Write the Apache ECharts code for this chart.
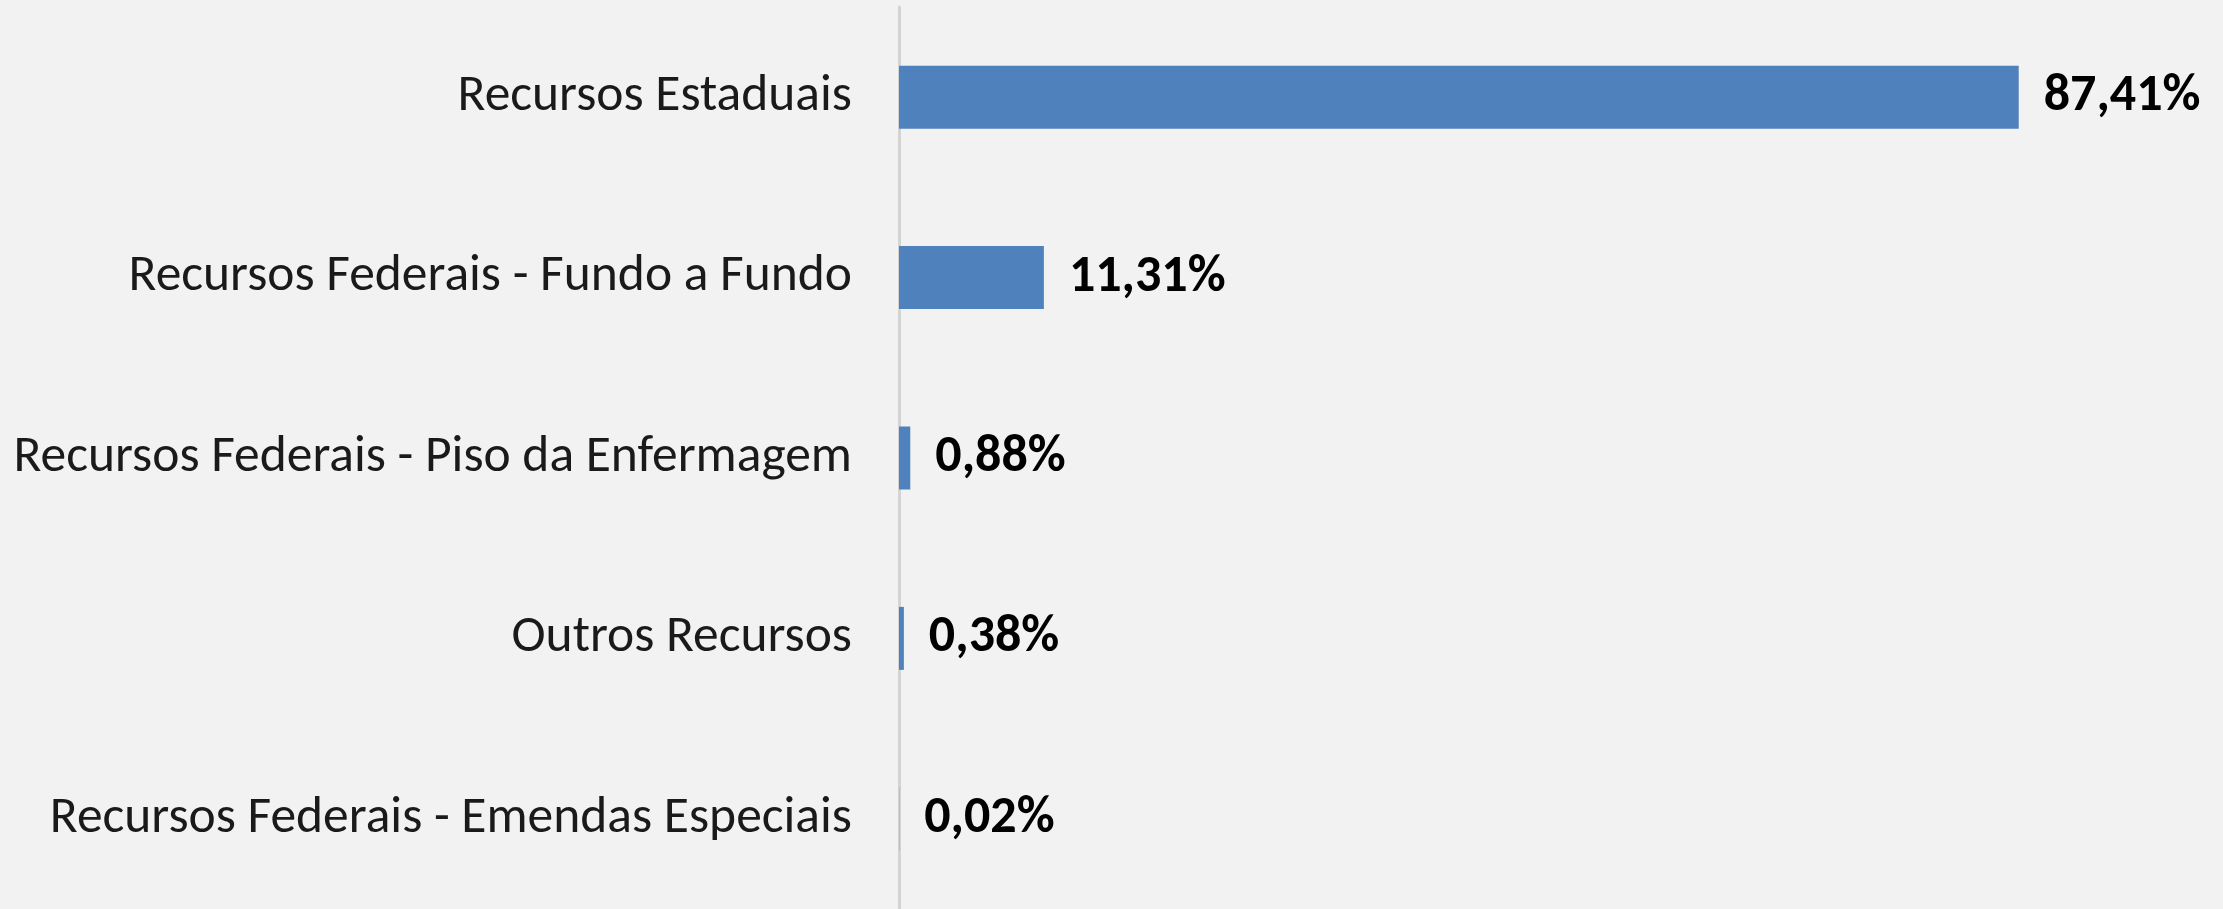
<!DOCTYPE html>
<html>
<head>
<meta charset="utf-8">
<script src="https://cdn.jsdelivr.net/npm/echarts@6/dist/echarts.min.js"></script>
<style>
  html, body { margin: 0; padding: 0; background: #f2f2f2; }
  #chart { width: 2223px; height: 909px; }
</style>
</head>
<body>
<div id="chart"></div>
<script>
// fontes de recursos, participação em %
const categorias = [
  'Recursos Estaduais',
  'Recursos Federais - Fundo a Fundo',
  'Recursos Federais - Piso da Enfermagem',
  'Outros Recursos',
  'Recursos Federais - Emendas Especiais'
];
const percentuais = [87.41, 11.31, 0.88, 0.38, 0.02];

const fonte = "Carlito, 'Liberation Sans Narrow', 'Liberation Sans', sans-serif";

let chart = echarts.init(document.getElementById('chart'));
let option = {
  backgroundColor: '#f2f2f2',
  animation: false,
  grid: {
    left: 899,
    top: 7,
    width: 1281,
    height: 910,
    containLabel: false
  },
  xAxis: {
    type: 'value',
    min: 0,
    max: 100,
    show: false
  },
  yAxis: {
    type: 'category',
    inverse: true,
    data: categorias,
    axisLine: {
      show: true,
      lineStyle: { color: '#d4d4d4', width: 3 }
    },
    axisTick: { show: false },
    axisLabel: {
      margin: 47,
      fontSize: 51.5,
      color: '#1a1a1a',
      fontFamily: fonte,
      padding: [12, 0, 0, 0]
    }
  },
  series: [{
    type: 'bar',
    data: percentuais,
    barWidth: 63,
    itemStyle: { color: '#4f81bd' },
    label: {
      show: true,
      position: 'right',
      distance: 25,
      fontSize: 52,
      fontWeight: 'bold',
      color: '#000',
      fontFamily: fonte,
      padding: [12, 0, 0, 0],
      formatter: p => p.value.toFixed(2).replace('.', ',') + '%'
    }
  }]
};
chart.setOption(option);
</script>
</body>
</html>
